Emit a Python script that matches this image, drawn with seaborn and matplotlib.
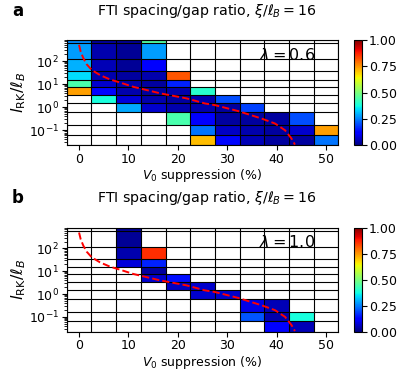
import numpy as np
import matplotlib
matplotlib.use("Agg")
import matplotlib.pyplot as plt
import seaborn as sns

sns.set_style("ticks", rc={"text.color": "black", "axes.labelcolor": "black",
                           "xtick.color": "black", "ytick.color": "black",
                           "axes.edgecolor": "black"})
plt.rcParams['font.family'] = ['DejaVu Sans']
plt.rcParams['mathtext.fontset'] = 'dejavusans'

# ---- data ----
v0_suppression = [0, 5, 10, 15, 20, 25, 30, 35, 40, 45, 50]          # column centres (%)
lrk_edges_log10 = [2.91, 2.77, 2.07, 1.55, 1.18, 0.89, 0.54, 0.19,
                   -0.21, -0.78, -1.19, -1.65]                         # row edges, top -> bottom
n = None
ratio_lambda06 = [  # rows top -> bottom, columns V0 = 0..50
    [0.26, 0.03, 0.02, 0.45, n, n, n, n, n, n, n],
    [0.28, 0.04, 0.02, 0.28, n, n, n, n, n, n, n],
    [0.30, 0.05, 0.02, 0.12, n, n, n, n, n, n, n],
    [0.34, 0.04, 0.03, 0.04, 0.82, n, n, n, n, n, n],
    [0.44, 0.07, 0.04, 0.03, 0.16, n, n, n, n, n, n],
    [0.74, 0.13, 0.04, 0.03, 0.04, 0.40, n, n, n, n, n],
    [n, 0.38, 0.08, 0.04, 0.03, 0.04, 0.20, n, n, n, n],
    [n, n, 0.29, 0.07, 0.04, 0.04, 0.03, 0.19, n, n, n],
    [n, n, n, n, 0.44, 0.12, 0.03, 0.03, 0.03, 0.20, n],
    [n, n, n, n, n, 0.24, 0.06, 0.04, 0.03, 0.07, 0.74],
    [n, n, n, n, n, 0.71, 0.13, 0.05, 0.03, 0.03, 0.24],
]
ratio_lambda10 = [
    [n, n, 0.02, n, n, n, n, n, n, n, n],
    [n, n, 0.02, n, n, n, n, n, n, n, n],
    [n, n, 0.04, 0.86, n, n, n, n, n, n, n],
    [n, n, 0.08, 0.16, n, n, n, n, n, n, n],
    [n, n, n, 0.03, n, n, n, n, n, n, n],
    [n, n, n, 0.07, 0.14, n, n, n, n, n, n],
    [n, n, n, n, 0.06, 0.07, n, n, n, n, n],
    [n, n, n, n, n, 0.07, 0.07, n, n, n, n],
    [n, n, n, n, n, n, n, 0.09, 0.05, n, n],
    [n, n, n, n, n, n, n, 0.21, 0.04, 0.38, n],
    [n, n, n, n, n, n, n, n, 0.12, 0.05, n],
]
# red dashed boundary curve
curve_v0 = [0.0, 0.34, 0.87, 1.55, 2.56, 4.25, 6.3, 8.3, 11.0, 16.4, 21.8,
            25.5, 27.5, 32.2, 37.0, 39.7, 41.7, 43.0, 43.7]
curve_lrk = [500, 250, 132, 72, 41, 24.5, 15.8, 11.7, 7.6, 4.0, 2.4,
             1.45, 1.23, 0.68, 0.32, 0.195, 0.10, 0.044, 0.024]

panels = [("a", ratio_lambda06, r"$\lambda = 0.6$"),
          ("b", ratio_lambda10, r"$\lambda = 1.0$")]

W, H = 415, 379
fig = plt.figure(figsize=(W / 100, H / 100), dpi=100)
axes_px = [(40, 145.3), (227.7, 331.7)]
label_y = [11, 198]

x_edges = np.array(v0_suppression, float)
x_edges = np.concatenate([x_edges - 2.5, [x_edges[-1] + 2.5]])
y_edges = 10 ** np.array(lrk_edges_log10)

for (lab, mat, lam), (top, bot), ly in zip(panels, axes_px, label_y):
    ax = fig.add_axes([66.7 / W, 1 - bot / H, 271.7 / W, (bot - top) / H])
    cax = fig.add_axes([354 / W, 1 - bot / H, 7.5 / W, (bot - top) / H])
    Z = np.array([[np.nan if v is None else v for v in row] for row in mat], float)
    Zm = np.ma.masked_invalid(Z)
    cmap = plt.get_cmap("jet").copy()
    cmap.set_bad((1, 1, 1, 0))
    mesh = ax.pcolormesh(x_edges, y_edges, Zm, cmap=cmap, vmin=0, vmax=1,
                         shading="flat")
    ax.set_yscale("log")
    ax.hlines(y_edges, x_edges[0], x_edges[-1], colors="k", lw=0.8, zorder=2)
    ax.vlines(x_edges, y_edges[-1], y_edges[0], colors="k", lw=0.8, zorder=2)
    sns.lineplot(x=curve_v0, y=curve_lrk, ax=ax, color="red", linestyle="--",
                 lw=1.4, zorder=3)
    ax.set_xlim(x_edges[0], x_edges[-1])
    ax.set_ylim(y_edges[-1], y_edges[0])
    ax.set_xticks([0, 10, 20, 30, 40, 50])
    ax.set_yticks([0.1, 1, 10, 100])
    ax.tick_params(axis="both", labelsize=9, length=3.5, width=0.8,
                   direction="out", pad=2)
    ax.tick_params(axis="y", which="minor", length=2, width=0.6)
    for s in ax.spines.values():
        s.set_linewidth(0.8)
        s.set_color("k")
    ax.set_xlabel(r"$V_0$ suppression (%)", fontsize=9, labelpad=1)
    ax.set_ylabel(r"$l_{\rm RK}/\ell_B$", fontsize=11.5, labelpad=1)
    ax.text(0.915, 0.86, lam, transform=ax.transAxes, ha="right", va="center",
            fontsize=11.5)
    cb = fig.colorbar(mesh, cax=cax, ticks=[0, 0.25, 0.5, 0.75, 1.0])
    cb.ax.set_yticklabels(["0.00", "0.25", "0.50", "0.75", "1.00"])
    cb.ax.tick_params(labelsize=9, length=3.5, width=0.8, pad=2)
    cb.outline.set_linewidth(0.8)
    fig.text(207 / W, 1 - ly / H, r"FTI spacing/gap ratio, $\xi/\ell_B = 16$",
             ha="center", va="center", fontsize=10.2)
    fig.text(12 / W, 1 - ly / H, lab, ha="left", va="center", fontsize=12,
             fontweight="bold")

fig.savefig("out.png", dpi=100)
